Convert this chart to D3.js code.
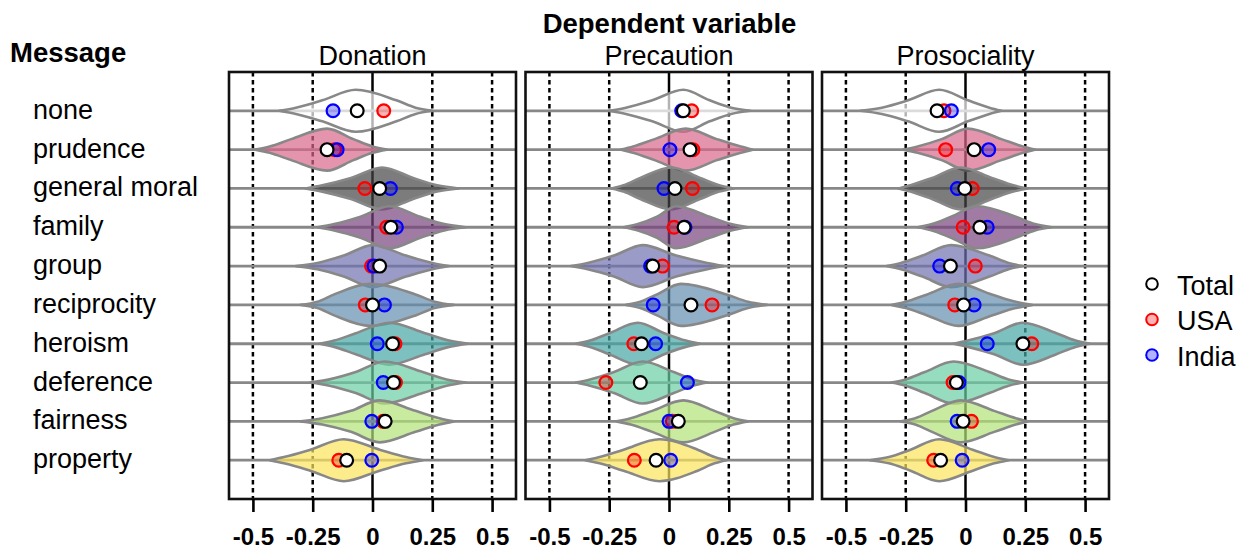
<!DOCTYPE html>
<html>
<head>
<meta charset="utf-8">
<script src="https://cdn.jsdelivr.net/npm/d3@7"></script>
<style>
  html, body { margin: 0; padding: 0; background: #fff; }
  svg { display: block; font-family: Arial, "Liberation Sans", sans-serif; }
</style>
</head>
<body>
<svg id="chart" width="1245" height="551"></svg>
<script>
// ---------------- data ----------------
const messages = ["none","prudence","general moral","family","group","reciprocity","heroism","deference","fairness","property"];
const panels = ["Donation","Precaution","Prosociality"];
const xTicks = [-0.5,-0.25,0,0.25,0.5];
const tickLabels = ["-0.5","-0.25","0","0.25","0.5"];
const gridValues = [-0.5,-0.25,0.25,0.5];

// point estimates (Total / USA / India), one array per dependent variable
const totalDonation = [-0.064,-0.19,0.03,0.077,0.03,0.0,0.084,0.088,0.053,-0.108];
const usaDonation   = [0.047,-0.158,-0.032,0.059,-0.004,-0.03,0.094,0.096,0.045,-0.141];
const indiaDonation = [-0.165,-0.148,0.075,0.1,0.006,0.05,0.02,0.045,-0.003,-0.003];

const totalPrecaution = [0.06,0.088,0.025,0.063,-0.068,0.092,-0.115,-0.12,0.039,-0.054];
const usaPrecaution   = [0.095,0.10,0.098,0.021,-0.027,0.18,-0.147,-0.264,0.014,-0.145];
const indiaPrecaution = [0.053,0.004,-0.021,0.067,-0.077,-0.066,-0.056,0.077,0.0,0.007];

const totalProsociality = [-0.119,0.036,-0.003,0.06,-0.063,-0.008,0.24,-0.038,-0.01,-0.104];
const usaProsociality   = [-0.09,-0.083,0.028,-0.01,0.041,-0.045,0.277,-0.052,0.025,-0.133];
const indiaProsociality = [-0.059,0.097,-0.034,0.091,-0.108,0.036,0.091,-0.027,-0.035,-0.014];

// violin outlines: x positions where the relative half-width equals knotHeights
const knotHeights = [0, 0.15, 0.5, 1, 0.5, 0.15, 0];
const violinDonation = [
  [-0.39,-0.32,-0.21,-0.07,0.10,0.18,0.25],
  [-0.49,-0.43,-0.34,-0.19,-0.08,0.0,0.06],
  [-0.28,-0.21,-0.09,0.04,0.17,0.27,0.36],
  [-0.23,-0.16,-0.05,0.07,0.20,0.30,0.39],
  [-0.32,-0.23,-0.12,0.0,0.14,0.25,0.32],
  [-0.30,-0.23,-0.16,-0.01,0.18,0.26,0.34],
  [-0.22,-0.16,-0.07,0.07,0.22,0.32,0.40],
  [-0.26,-0.18,-0.07,0.05,0.21,0.31,0.39],
  [-0.30,-0.21,-0.09,0.03,0.18,0.28,0.34],
  [-0.43,-0.37,-0.26,-0.12,0.03,0.14,0.21]
];
const violinPrecaution = [
  [-0.25,-0.18,-0.07,0.06,0.17,0.26,0.34],
  [-0.20,-0.15,-0.06,0.07,0.20,0.30,0.35],
  [-0.24,-0.19,-0.12,0.01,0.13,0.21,0.27],
  [-0.19,-0.13,-0.05,0.03,0.17,0.26,0.33],
  [-0.41,-0.34,-0.23,-0.11,0.03,0.16,0.23],
  [-0.18,-0.12,-0.05,0.05,0.24,0.33,0.41],
  [-0.39,-0.33,-0.25,-0.13,-0.02,0.07,0.13],
  [-0.39,-0.33,-0.23,-0.11,0.02,0.10,0.16],
  [-0.22,-0.16,-0.07,0.06,0.19,0.27,0.33],
  [-0.35,-0.29,-0.19,-0.04,0.12,0.19,0.24]
];
const violinProsociality = [
  [-0.44,-0.35,-0.24,-0.11,0.01,0.10,0.15],
  [-0.26,-0.20,-0.10,0.01,0.15,0.24,0.29],
  [-0.28,-0.23,-0.14,-0.02,0.11,0.20,0.26],
  [-0.20,-0.14,-0.06,0.05,0.21,0.29,0.36],
  [-0.33,-0.27,-0.18,-0.06,0.10,0.18,0.24],
  [-0.31,-0.25,-0.16,-0.03,0.11,0.21,0.28],
  [-0.05,0.01,0.12,0.24,0.38,0.46,0.52],
  [-0.31,-0.25,-0.17,-0.05,0.10,0.18,0.24],
  [-0.27,-0.21,-0.14,-0.02,0.12,0.21,0.26],
  [-0.40,-0.32,-0.23,-0.11,0.03,0.12,0.18]
];

const violinColors = ["#ffffff","#d8668a","#454545","#77457e","#7070b0","#628dae","#45a5a5","#69cda2","#b0e277","#fbe45b"];

const legendLabels = ["Total","USA","India"];

// ---------------- layout ----------------
const svg = d3.select("#chart");
const yTop = 72, yBottom = 499;
const panelLeft0 = 229, panelStep = 296.5, panelW = 287;
const halfMax = 21;

const y = d3.scalePoint().domain(messages).range([yTop, yBottom]).padding(1);

const panelData = [
  {name: panels[0], total: totalDonation, usa: usaDonation, india: indiaDonation, violins: violinDonation},
  {name: panels[1], total: totalPrecaution, usa: usaPrecaution, india: indiaPrecaution, violins: violinPrecaution},
  {name: panels[2], total: totalProsociality, usa: usaProsociality, india: indiaProsociality, violins: violinProsociality}
];

panelData.forEach((pd, p) => {
  const left = panelLeft0 + panelStep * p;
  const x = d3.scaleLinear().domain([-0.6, 0.6]).range([left, left + panelW]);
  const g = svg.append("g");

  g.append("rect").attr("x", left).attr("y", yTop).attr("width", panelW).attr("height", yBottom - yTop).attr("fill", "#fff");

  g.selectAll("line.grid").data(gridValues).join("line")
    .attr("class", "grid")
    .attr("x1", d => x(d)).attr("x2", d => x(d))
    .attr("y1", yTop).attr("y2", yBottom)
    .attr("stroke", "#000").attr("stroke-width", 2.5)
    .attr("stroke-dasharray", "4.5,3.5");

  g.append("line").attr("x1", x(0)).attr("x2", x(0)).attr("y1", yTop).attr("y2", yBottom)
    .attr("stroke", "#000").attr("stroke-width", 2.5);

  g.selectAll("line.row").data(messages).join("line")
    .attr("class", "row")
    .attr("x1", left).attr("x2", left + panelW)
    .attr("y1", d => y(d)).attr("y2", d => y(d))
    .attr("stroke", "#888").attr("stroke-width", 2.8);

  pd.violins.forEach((knots, i) => {
    const yc = y(messages[i]);
    const pts = knots.map((k, j) => [k, knotHeights[j]]);
    const area = d3.area()
      .x(d => x(d[0]))
      .y0(d => yc + d[1] * halfMax)
      .y1(d => yc - d[1] * halfMax)
      .curve(d3.curveMonotoneX);
    g.append("path").datum(pts)
      .attr("d", area)
      .attr("fill", violinColors[i])
      .attr("fill-opacity", 0.7)
      .attr("stroke", "#888")
      .attr("stroke-width", 2.6)
      .attr("stroke-linejoin", "round");
  });

  const series = [
    {vals: pd.usa, stroke: "#ff0000", fill: "#ff0000", fo: 0.3},
    {vals: pd.india, stroke: "#0000ff", fill: "#0000ff", fo: 0.3},
    {vals: pd.total, stroke: "#000000", fill: "#ffffff", fo: 1}
  ];
  series.forEach(s => {
    g.selectAll(null).data(s.vals).join("circle")
      .attr("cx", d => x(d))
      .attr("cy", (d, i) => y(messages[i]))
      .attr("r", 6.4)
      .attr("fill", s.fill).attr("fill-opacity", s.fo)
      .attr("stroke", s.stroke).attr("stroke-width", 2.2);
  });

  g.append("rect").attr("x", left).attr("y", yTop).attr("width", panelW).attr("height", yBottom - yTop)
    .attr("fill", "none").attr("stroke", "#111").attr("stroke-width", 2.6);

  const axis = d3.axisBottom(x).tickValues(xTicks).tickFormat((d, i) => tickLabels[i]).tickSize(13);
  const ag = g.append("g").attr("transform", `translate(0,${yBottom})`).call(axis);
  ag.select(".domain").remove();
  ag.selectAll(".tick line").attr("stroke", "#000").attr("stroke-width", 2.6);
  ag.selectAll(".tick text")
    .attr("y", 46).attr("dy", 0)
    .attr("fill", "#000")
    .style("font-size", "24px").style("font-weight", "bold")
    .style("font-family", "Arial, 'Liberation Sans', sans-serif");

  svg.append("text").attr("x", left + panelW / 2).attr("y", 65)
    .attr("text-anchor", "middle").attr("font-size", 27).attr("fill", "#000")
    .text(pd.name);
});

svg.append("text").attr("x", 669.5).attr("y", 33).attr("text-anchor", "middle")
  .attr("font-size", 27.5).attr("font-weight", "bold").attr("fill", "#000")
  .text("Dependent variable");
svg.append("text").attr("x", 10).attr("y", 62)
  .attr("font-size", 27.5).attr("font-weight", "bold").attr("fill", "#000")
  .text("Message");

svg.selectAll("text.rowlab").data(messages).join("text")
  .attr("class", "rowlab")
  .attr("x", 33).attr("y", d => y(d) + 8)
  .attr("font-size", 27).attr("fill", "#000")
  .text(d => d);

const legendStyles = [
  {stroke: "#000000", fill: "#ffffff", fo: 1},
  {stroke: "#ff0000", fill: "#ff0000", fo: 0.3},
  {stroke: "#0000ff", fill: "#0000ff", fo: 0.3}
];
const ly = d3.scalePoint().domain(legendLabels).range([284, 355]);
const lg = svg.append("g");
lg.selectAll("circle").data(legendLabels).join("circle")
  .attr("cx", 1152).attr("cy", d => ly(d)).attr("r", 5.8)
  .attr("fill", (d, i) => legendStyles[i].fill)
  .attr("fill-opacity", (d, i) => legendStyles[i].fo)
  .attr("stroke", (d, i) => legendStyles[i].stroke)
  .attr("stroke-width", 2);
lg.selectAll("text").data(legendLabels).join("text")
  .attr("x", 1177).attr("y", d => ly(d) + 10.5)
  .attr("font-size", 27).attr("fill", "#000")
  .text(d => d);
</script>
</body>
</html>
